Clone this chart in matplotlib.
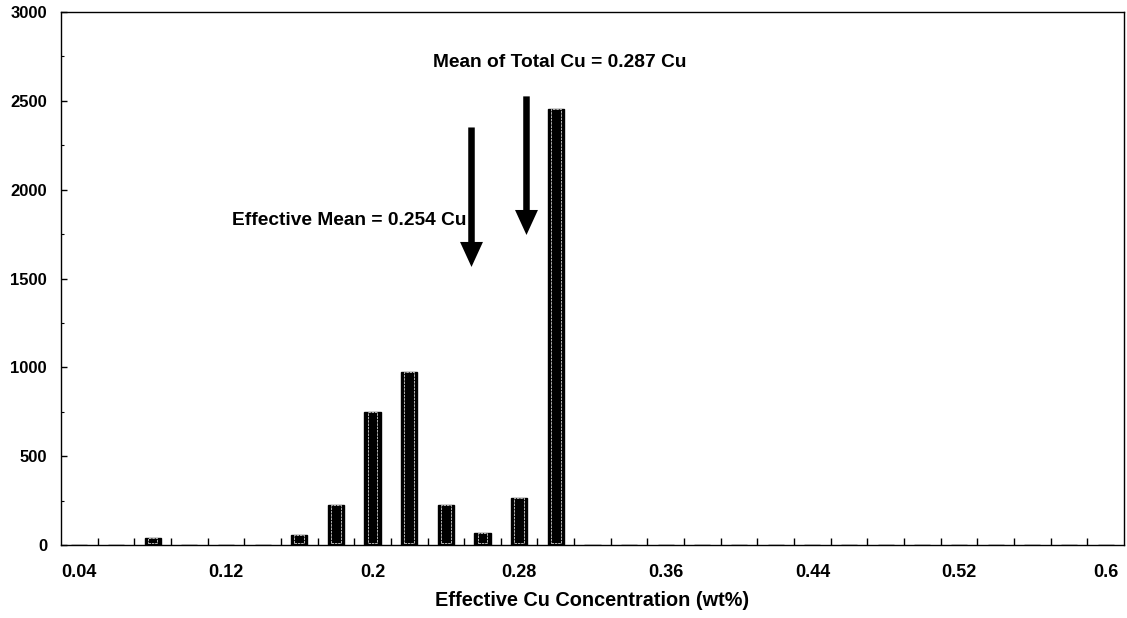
import numpy as np
import matplotlib
matplotlib.use('Agg')
import matplotlib.pyplot as plt
from matplotlib.ticker import FixedLocator, MultipleLocator

plt.rcParams['font.family'] = ['Liberation Sans', 'DejaVu Sans']
plt.rcParams['font.weight'] = 'bold'

# effective Cu concentration bins (wt%) and counts
concentration = [0.04, 0.06, 0.08, 0.10, 0.12, 0.14, 0.16, 0.18, 0.20, 0.22,
                 0.24, 0.26, 0.28, 0.30, 0.32, 0.34, 0.36, 0.38, 0.40, 0.42,
                 0.44, 0.46, 0.48, 0.50, 0.52, 0.54, 0.56, 0.58, 0.60]
counts = [0, 0, 38, 0, 0, 0, 55, 225, 748, 972,
          228, 70, 262, 2455, 0, 0, 0, 0, 0, 0,
          0, 0, 0, 0, 0, 0, 0, 0, 0]
tick_labels = ['0.04', '0.12', '0.2', '0.28', '0.36', '0.44', '0.52', '0.6']

effective_mean = 0.254
total_mean = 0.287

fig = plt.figure(figsize=(11.27, 6.18), dpi=100)
ax = fig.add_axes([0.0541, 0.1181, 0.9432, 0.8625])

x = np.arange(len(concentration))
width = 0.44
ax.bar(x, counts, width, color='black', edgecolor='black', linewidth=1.0, zorder=2)
# thin light inner outline like the scanned bars
nz = [i for i in x if counts[i] > 0]
ax.bar([x[i] for i in nz], [counts[i] - 12 for i in nz], width * 0.6, bottom=12,
       facecolor='none', edgecolor='#d0d0d0', linewidth=0.6, linestyle=(0, (3, 1)), zorder=3)

ax.set_xlim(-0.5, len(concentration) - 0.5)
ax.set_ylim(0, 3000)

# category labels every 4th bin, ticks between bins
ax.xaxis.set_major_locator(FixedLocator(x[::4]))
ax.set_xticklabels(tick_labels)
ax.xaxis.set_minor_locator(FixedLocator(x[1:] - 0.5))
ax.tick_params(axis='x', which='major', length=0, pad=14, labelsize=13)
ax.tick_params(axis='x', which='minor', direction='in', length=5, width=1)

ax.yaxis.set_major_locator(MultipleLocator(500))
ax.yaxis.set_minor_locator(MultipleLocator(250))
ax.tick_params(axis='y', which='major', direction='in', length=4, width=1, pad=10, labelsize=12)
ax.tick_params(axis='y', which='minor', direction='in', length=2, width=0.8)

for s in ax.spines.values():
    s.set_linewidth(1.0)
    s.set_color('black')

ax.set_xlabel('Effective Cu Concentration (wt%)', fontsize=14.3, fontweight='bold', labelpad=7)

# arrows pointing at the two means (category index units)
def to_idx(v):
    return (v - concentration[0]) / (concentration[1] - concentration[0])

arrow_props = dict(width=4.7, headwidth=16.5, headlength=18, shrink=0,
                   facecolor='black', edgecolor='none')
ax.annotate('', xy=(to_idx(effective_mean), 1565), xytext=(to_idx(effective_mean), 2350),
            arrowprops=arrow_props)
ax.annotate('', xy=(to_idx(total_mean) - 0.15, 1745), xytext=(to_idx(total_mean) - 0.15, 2525),
            arrowprops=arrow_props)

ax.text(4.16, 1829, 'Effective Mean = 0.254 Cu', fontsize=13.8, fontweight='bold', va='center')
ax.text(9.65, 2718, 'Mean of Total Cu = 0.287 Cu', fontsize=13.8, fontweight='bold', va='center')

fig.savefig('out.png', dpi=100)
